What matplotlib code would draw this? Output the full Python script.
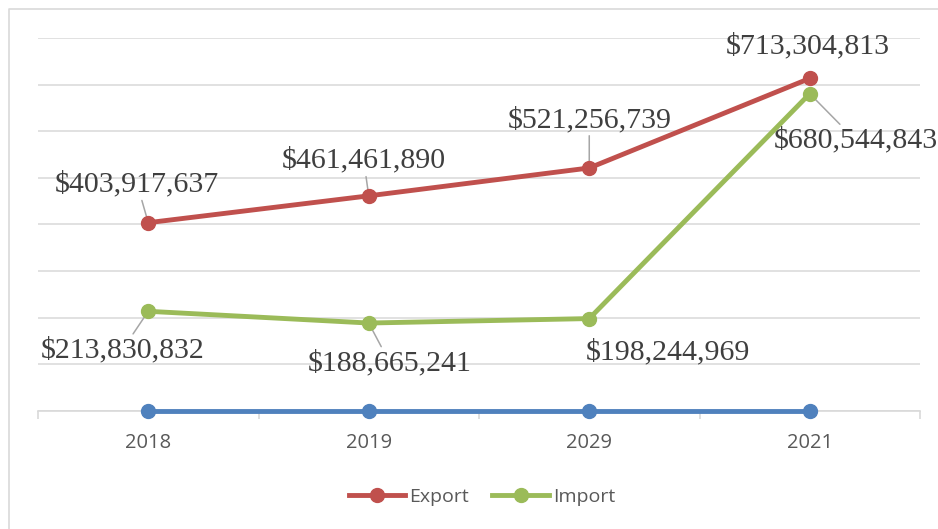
import matplotlib.pyplot as plt
from matplotlib.lines import Line2D

# Data
years = ["2018", "2019", "2029", "2021"]
export = [403917637, 461461890, 521256739, 713304813]
imports = [213830832, 188665241, 198244969, 680544843]
blank = [0, 0, 0, 0]

red = "#C0504D"
green = "#9BBB59"
blue = "#4F81BD"
grid_c = "#D9D9D9"
txt_c = "#595959"

fig = plt.figure(figsize=(9.38, 5.29), dpi=100)
ax = fig.add_axes([38 / 938, 1 - 411 / 529, 882 / 938, 373 / 529])

x = range(len(years))
ax.plot(x, blank, color=blue, lw=3.5, marker="o", ms=10, zorder=3, clip_on=False)
ax.plot(x, export, color=red, lw=3.5, marker="o", ms=10, label="Export", zorder=4)
ax.plot(x, imports, color=green, lw=3.5, marker="o", ms=10, label="Import", zorder=4)

ax.set_xlim(-0.5, 3.5)
ax.set_ylim(0, 800e6)
ax.set_yticks([i * 100e6 for i in range(9)])
ax.yaxis.grid(True, color=grid_c, lw=1.1)
ax.set_axisbelow(True)
ax.tick_params(axis="y", left=False, labelleft=False)
for s in ["top", "right", "left"]:
    ax.spines[s].set_visible(False)
ax.spines["bottom"].set_color(grid_c)
ax.spines["bottom"].set_linewidth(1.2)

ax.set_xticks([-0.5, 0.5, 1.5, 2.5, 3.5])
ax.set_xticklabels([])
ax.set_xticks(list(x), minor=True)
ax.set_xticklabels(years, minor=True, fontsize=14.5, color=txt_c, family="Open Sans")
ax.tick_params(axis="x", which="major", length=6, color=grid_c, width=1.2)
ax.tick_params(axis="x", which="minor", length=0, pad=16)

# data labels: offsets in pixels (dx, dy) and whether a leader line is drawn
exp_off = [(-11, 31, True), (-5, 28, True), (0, 41, True), (-2, 25, False)]
imp_off = [(-26, -46, True), (21, -47, True), (79, -41, False), (46, -54, True)]


def label(vals, offs):
    for i, (v, (dx, dy, lead)) in enumerate(zip(vals, offs)):
        arrow = dict(arrowstyle="-", color="#A6A6A6", lw=1.1, shrinkA=0, shrinkB=0) if lead else None
        ax.annotate(f"${v:,}", (i, v), xytext=(dx, dy), textcoords="offset pixels",
                    ha="center", va="baseline", fontsize=21.5, family="Liberation Serif",
                    color="#3F3F3F", arrowprops=arrow, zorder=3.5, annotation_clip=False)


label(export, exp_off)
label(imports, imp_off)

fig.legend(handles=ax.get_lines()[1:], labels=["Export", "Import"], loc="center",
           bbox_to_anchor=(482 / 938, 1 - 497 / 529), ncol=2, frameon=False,
           prop={"family": "Open Sans", "size": 14}, labelcolor=txt_c,
           handlelength=2.9, handletextpad=0.2, columnspacing=1.2)

# outer chart border
fig.add_artist(Line2D([9 / 938, 9 / 938, 1], [0, 1 - 9 / 529, 1 - 9 / 529],
                      transform=fig.transFigure, color=grid_c, lw=1.2))

fig.savefig("out.png", dpi=100)
